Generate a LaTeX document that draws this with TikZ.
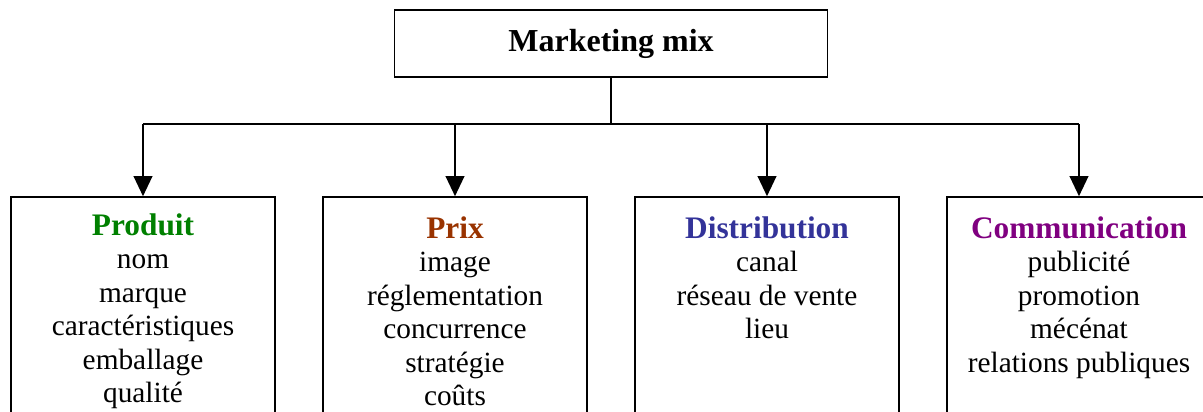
\documentclass[tikz,border=0pt]{standalone}
\usepackage{fontspec}
\setmainfont{Liberation Serif}
\usetikzlibrary{arrows.meta}
\definecolor{prodgreen}{RGB}{0,128,0}
\definecolor{prixbrown}{RGB}{153,51,0}
\definecolor{distblue}{RGB}{51,51,153}
\definecolor{compurple}{RGB}{128,0,128}
\newcommand\hdr[2]{{\fontsize{23.5}{25.1}\selectfont\bfseries\color{#1}#2}}
\begin{document}
\begin{tikzpicture}[x=0.75pt,y=-0.75pt, line width=1.2pt,
  box/.style={draw, rectangle, inner sep=0pt, minimum width=198pt, minimum height=172.5pt},
  lbl/.style={anchor=base, inner sep=0pt, font=\fontsize{22}{25.1}\selectfont},
  arr/.style={-{Triangle[length=15pt,width=14pt]}}]
\clip (0,0) rectangle (1203,411);
\node[draw, inner sep=0pt, minimum width=324.75pt, minimum height=50.25pt,
  font=\fontsize{24}{28}\selectfont\bfseries] (top) at (611,43.5) {Marketing mix};
\node[box] (b1) at (143,312) {};
\node[box] (b2) at (455,312) {};
\node[box] (b3) at (767,312) {};
\node[box] (b4) at (1079,312) {};
\coordinate (j) at (611,124);
\draw (top.south) -- (j);
\draw (b1.north |- j) -- (b4.north |- j);
\foreach \b in {b1,b2,b3,b4} \draw[arr] (\b.north |- j) -- (\b.north);
\node[lbl] (t1) at (143,235.5) {\begin{tabular}[t]{@{}c@{}}\hdr{prodgreen}{Produit}\\nom\\marque\\caractéristiques\\emballage\\qualité\end{tabular}};
\node[lbl] (t2) at (455,238.5) {\begin{tabular}[t]{@{}c@{}}\hdr{prixbrown}{Prix}\\image\\réglementation\\concurrence\\stratégie\\coûts\end{tabular}};
\node[lbl] (t3) at (767,238.5) {\begin{tabular}[t]{@{}c@{}}\hdr{distblue}{Distribution}\\canal\\réseau de vente\\lieu\end{tabular}};
\node[lbl] (t4) at (1079,238.5) {\begin{tabular}[t]{@{}c@{}}\hdr{compurple}{Communication}\\publicité\\promotion\\mécénat\\relations publiques\end{tabular}};
\end{tikzpicture}
\end{document}
